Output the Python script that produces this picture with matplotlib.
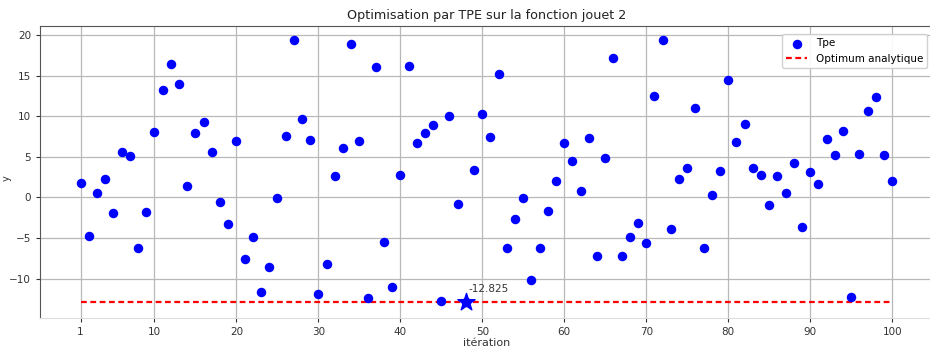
"""Scatter of TPE trial values against the analytic optimum."""

import matplotlib

matplotlib.use("Agg")
import matplotlib.pyplot as plt

# Objective value of each TPE trial (iterations 1..100).
ITERATIONS = list(range(1, 101))
TPE_VALUES = [
    1.80, -4.76, 0.61, 2.29, -1.97, 5.61, 5.12, -6.24, -1.85, 8.12,
    13.24, 16.40, 13.94, 1.35, 7.95, 9.30, 5.61, -0.58, -3.32, 6.93,
    -7.55, -4.92, -11.61, -8.61, -0.05, 7.63, 19.43, 9.71, 7.05, -11.89,
    -8.24, 2.62, 6.06, 18.86, 6.96, -12.35, 16.03, -5.46, -11.07, 2.74,
    16.23, 6.72, 7.99, 8.89, -12.75, 10.00, -0.82, -12.825, 3.40, 10.33,
    7.50, 15.21, -6.19, -2.63, -0.05, -10.17, -6.19, -1.72, 2.00, 6.72,
    4.55, 0.74, 7.38, -7.18, 4.83, 17.22, -7.18, -4.88, -3.20, -5.58,
    12.55, 19.35, -3.86, 2.29, 3.57, 10.98, -6.19, 0.25, 3.24, 14.43,
    6.84, 9.10, 3.57, 2.74, -0.95, 2.62, 0.53, 4.22, -3.69, 3.11,
    1.67, 7.21, 5.29, 8.16, -12.22, 5.36, 10.65, 12.37, 5.17, 2.00,
]
OPTIMUM = -12.825
X_TICKS = [1, 10, 20, 30, 40, 50, 60, 70, 80, 90, 100]
Y_TICKS = [-10, -5, 0, 5, 10, 15, 20]

fig = plt.figure(figsize=(9.3, 3.49), dpi=100)
ax = fig.add_axes([0.043, 0.090, 0.960, 0.835])

ax.scatter(ITERATIONS, TPE_VALUES, s=34, color="blue", label="Tpe", zorder=3)
ax.plot([ITERATIONS[0], ITERATIONS[-1]], [OPTIMUM, OPTIMUM], "--",
        color="red", lw=1.6, dashes=(2.6, 1.6), label="Optimum analytique",
        zorder=2)

# Best trial highlighted with a star and its value.
best = min(range(len(TPE_VALUES)), key=lambda i: TPE_VALUES[i])
ax.scatter(ITERATIONS[best], TPE_VALUES[best], marker="*", s=170,
           color="blue", zorder=4)
ax.text(ITERATIONS[best] + 0.3, TPE_VALUES[best] + 0.9, f"{TPE_VALUES[best]}",
        fontsize=7.5, color="#333333", va="bottom", ha="left")

ax.set_xlim(-3.95, 104.95)
ax.set_ylim(-14.8, 21.1)
ax.set_xticks(X_TICKS)
ax.set_yticks(Y_TICKS)
ax.tick_params(labelsize=7.5, colors="#333333", length=3)
ax.grid(True, color="#b8b8b8", lw=0.9)
ax.set_axisbelow(True)
for side in ("left", "top"):
    ax.spines[side].set_color("#555555")
ax.spines["bottom"].set_color("#dddddd")

ax.set_title("Optimisation par TPE sur la fonction jouet 2", fontsize=9.2,
             color="#222222", pad=5)
ax.set_xlabel("itération", fontsize=8, color="#333333", labelpad=1)
fig.text(0.002, 0.49, "y", rotation=90, fontsize=7, va="center", ha="left",
         color="#333333")

ax.legend(loc="upper right", fontsize=7.5, framealpha=0.9, borderpad=0.4,
          bbox_to_anchor=(0.9995, 0.99))

fig.savefig("out.png", dpi=100)
